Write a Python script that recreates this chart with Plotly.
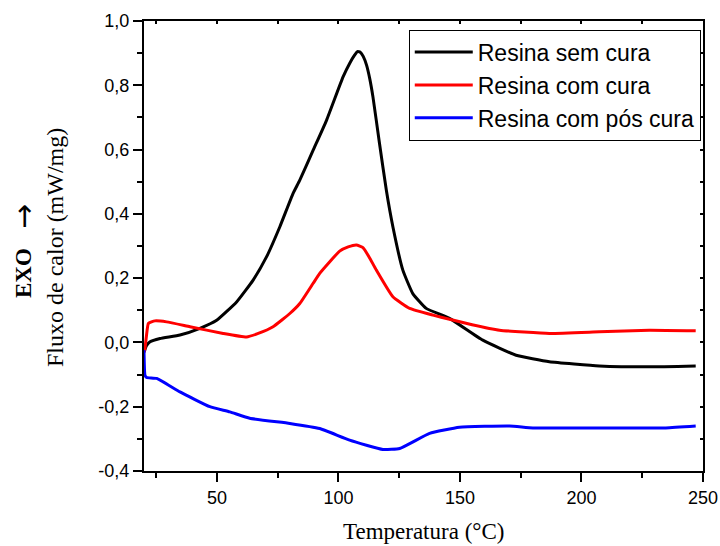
import plotly.graph_objects as go

# ---- data ----
x_sem = [20, 20.3, 21, 22.5, 26.6, 34.8, 43, 49.9, 58.1, 64.9, 70.4, 75.9, 81.3, 84.1, 89.6, 95.1,
         101.9, 104.6, 106.5, 107.8, 109.0, 110.2, 111.6, 112.9, 114.2, 116.9, 119.7, 122.4, 126.5,
         130.6, 136.1, 145.7, 159.4, 173.1, 186.8, 207.3, 227.9, 247]
y_sem = [-0.03, -0.024, -0.01, 0.002, 0.012, 0.023, 0.044, 0.069, 0.126, 0.194, 0.266, 0.36, 0.463,
         0.505, 0.598, 0.691, 0.826, 0.868, 0.892, 0.905, 0.903, 0.89, 0.862, 0.82, 0.764, 0.619,
         0.474, 0.36, 0.225, 0.152, 0.106, 0.075, 0.007, -0.040, -0.060, -0.073, -0.076, -0.073]

x_com = [20, 20.3, 21, 21.8, 24.5, 29.3, 38.9, 52.6, 62.2, 67, 73.1, 80, 84.1, 89.6, 92.3, 100.5,
         104, 107.4, 110.1, 112.6, 115.6, 122.4, 129.3, 138.9, 145.7, 155, 166.3, 186.8, 207.3,
         227.9, 247]
y_com = [-0.03, -0.024, 0.02, 0.059, 0.067, 0.064, 0.049, 0.028, 0.017, 0.028, 0.049, 0.090, 0.121,
         0.184, 0.215, 0.284, 0.297, 0.303, 0.295, 0.266, 0.225, 0.142, 0.106, 0.085, 0.072, 0.055,
         0.038, 0.028, 0.033, 0.038, 0.036]

x_pos = [20, 20.4, 21.1, 25.2, 34.8, 47.1, 55.3, 63.5, 80, 92.3, 104.6, 118.3, 125.2, 137.5, 149.8,
         170.4, 180, 207.3, 234.7, 247]
y_pos = [-0.024, -0.102, -0.109, -0.112, -0.154, -0.200, -0.216, -0.236, -0.252, -0.268, -0.304,
         -0.333, -0.330, -0.283, -0.264, -0.260, -0.266, -0.266, -0.266, -0.260]

series_names = ["Resina sem cura", "Resina com cura", "Resina com pós cura"]
series_colors = ["#000000", "#FF0000", "#0000FF"]

x_tickvals = [50, 100, 150, 200, 250]
x_ticktext = ["50", "100", "150", "200", "250"]
x_minor = [25, 75, 125, 175, 225]
y_tickvals = [-0.4, -0.2, 0.0, 0.2, 0.4, 0.6, 0.8, 1.0]
y_ticktext = ["-0,4", "-0,2", "0,0", "0,2", "0,4", "0,6", "0,8", "1,0"]
y_minor = [-0.3, -0.1, 0.1, 0.3, 0.5, 0.7, 0.9]

x_title = "Temperatura (°C)"
y_title = "Fluxo de calor (mW/mg)"
exo_label = "<b>EXO</b>"
exo_arrow = "→"

XR = [20, 250]
YR = [-0.4, 1.0]

fig = go.Figure()
for xs, ys, name, col in zip([x_sem, x_com, x_pos], [y_sem, y_com, y_pos], series_names, series_colors):
    fig.add_trace(go.Scatter(x=xs, y=ys, mode="lines", name=name,
                             line=dict(color=col, width=3, shape="spline", smoothing=0.4)))

# dummy trace for mirrored (inside-tick) top/right axes
fig.add_trace(go.Scatter(x=[None], y=[None], xaxis="x2", yaxis="y2", showlegend=False,
                         hoverinfo="skip"))

tickfont = dict(family="Liberation Sans, Arial", size=18, color="black")

fig.update_layout(
    template="none",
    width=720, height=546,
    margin=dict(l=144, r=17, t=21, b=75, autoexpand=False),
    plot_bgcolor="white", paper_bgcolor="white",
    showlegend=True,
    legend=dict(x=0.996, xanchor="right", y=0.981, yanchor="top",
                bordercolor="black", borderwidth=1, bgcolor="white",
                font=dict(family="Liberation Sans, Arial", size=23, color="black"),
                itemwidth=58, tracegroupgap=0),
    xaxis=dict(range=XR, automargin=False, showgrid=False, zeroline=False, showline=True,
               linecolor="black", linewidth=2, ticks="outside", ticklen=9, tickwidth=1.5,
               tickcolor="black", tickvals=x_tickvals, ticktext=x_ticktext, tickfont=tickfont,
               minor=dict(tickvals=x_minor, ticks="outside", ticklen=5,
                          tickwidth=1.5, tickcolor="black")),
    yaxis=dict(range=YR, automargin=False, showgrid=False, zeroline=False, showline=True,
               linecolor="black", linewidth=2, ticks="outside", ticklen=9, tickwidth=1.5,
               tickcolor="black", tickvals=y_tickvals, ticktext=y_ticktext, tickfont=tickfont,
               minor=dict(tickvals=y_minor, ticks="outside",
                          ticklen=5, tickwidth=1.5, tickcolor="black")),
    xaxis2=dict(range=XR, automargin=False, overlaying="x", side="top", showgrid=False,
                zeroline=False, showline=True, linecolor="black", linewidth=2, ticks="inside",
                ticklen=3, tickwidth=1.5, tickcolor="black", tickvals=x_tickvals,
                showticklabels=False,
                minor=dict(tickvals=x_minor, ticks="inside", ticklen=3,
                           tickwidth=1.5, tickcolor="black")),
    yaxis2=dict(range=YR, automargin=False, overlaying="y", side="right", showgrid=False,
                zeroline=False, showline=True, linecolor="black", linewidth=2, ticks="inside",
                ticklen=3, tickwidth=1.5, tickcolor="black", tickvals=y_tickvals,
                showticklabels=False,
                minor=dict(tickvals=y_minor, ticks="inside",
                           ticklen=3, tickwidth=1.5, tickcolor="black")),
)

serif = dict(family="Liberation Serif, Times New Roman", size=23, color="black")
fig.add_annotation(text=x_title, xref="paper", yref="paper", x=0.5, y=-0.1355,
                   xanchor="center", yanchor="middle", showarrow=False, font=serif)
fig.add_annotation(text=y_title, xref="paper", yref="paper", x=(55 - 144) / 559,
                   y=1 - (248 - 21) / 450, xanchor="center", yanchor="middle",
                   textangle=-90, showarrow=False,
                   font=dict(family="Liberation Serif, Times New Roman", size=24, color="black"))
fig.add_annotation(text=exo_label, xref="paper", yref="paper", x=(23 - 144) / 559,
                   y=1 - (273 - 21) / 450, xanchor="center", yanchor="middle",
                   textangle=-90, showarrow=False, font=serif)
fig.add_annotation(text=exo_arrow, xref="paper", yref="paper", x=(24 - 144) / 559,
                   y=1 - (217 - 21) / 450, xanchor="center", yanchor="middle",
                   textangle=-90, showarrow=False,
                   font=dict(family="DejaVu Sans", size=30, color="black"))

fig.write_html("out.html")
